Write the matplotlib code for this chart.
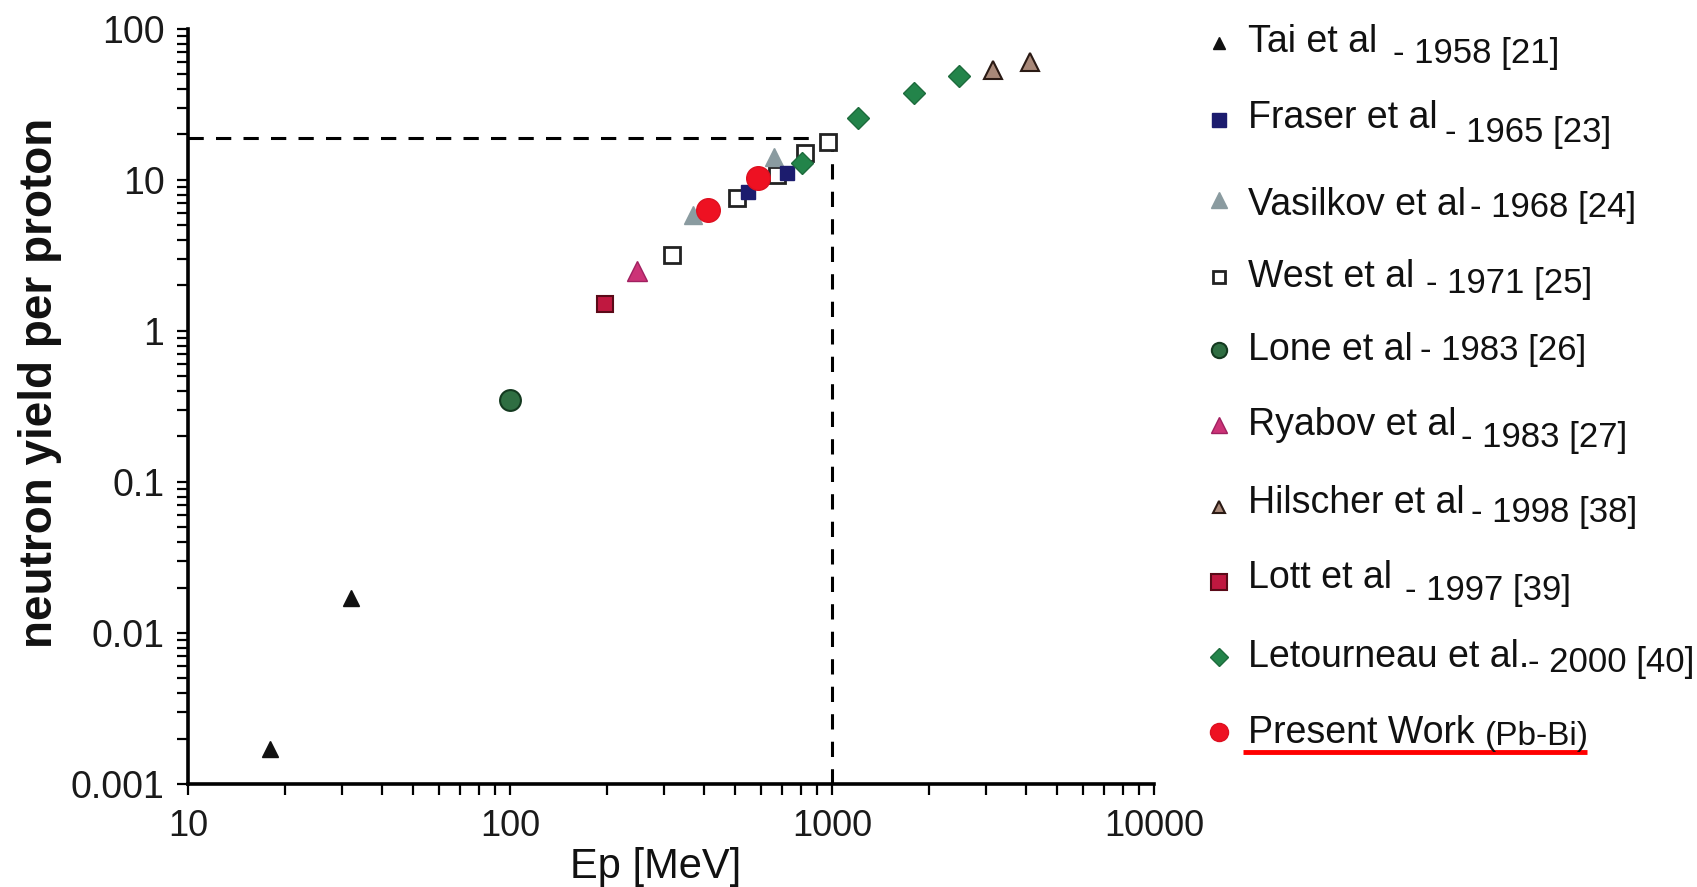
import matplotlib
matplotlib.use("Agg")
import matplotlib.pyplot as plt
from matplotlib.ticker import FixedLocator, FixedFormatter, LogLocator, NullFormatter

plt.rcParams['font.family'] = ['Liberation Sans', 'DejaVu Sans']

# data (Ep in MeV, neutrons per proton)
tai_x = [18, 32]
tai_y = [0.0017, 0.017]
fraser_x = [550, 725]
fraser_y = [8.3, 11.1]
vasilkov_x = [370, 660]
vasilkov_y = [5.9, 14.2]
west_x = [318, 507, 675, 824, 972]
west_y = [3.2, 7.6, 10.8, 15.1, 17.9]
lone_x = [100]
lone_y = [0.35]
ryabov_x = [248]
ryabov_y = [2.5]
hilscher_x = [3160, 4120]
hilscher_y = [53.5, 60.4]
lott_x = [197]
lott_y = [1.5]
letourneau_x = [807, 1205, 1800, 2480]
letourneau_y = [13.0, 25.8, 37.7, 48.9]
present_x = [412, 589]
present_y = [6.3, 10.3]

# reference lines (1 GeV -> ~19 n/p)
ref_energy = 1000
ref_yield = 19

x_ticks = [10, 100, 1000, 10000]
x_ticklabels = ["10", "100", "1000", "10000"]
y_ticks = [0.001, 0.01, 0.1, 1, 10, 100]
y_ticklabels = ["0.001", "0.01", "0.1", "1", "10", "100"]

names = ["Tai et al", "Fraser et al", "Vasilkov et al", "West et al", "Lone et al",
         "Ryabov et al", "Hilscher et al", "Lott et al", "Letourneau et al.", "Present Work"]
refs = ["- 1958 [21]", "- 1965 [23]", "- 1968 [24]", "- 1971 [25]", "- 1983 [26]",
        "- 1983 [27]", "- 1998 [38]", "- 1997 [39]", "- 2000 [40]", "(Pb-Bi)"]

# marker styles: (marker, face, edge, size in plot, size in legend, edge width)
styles = [
    ("^", "#111111", "#111111", 12, 9, 1),
    ("s", "#1c1c6e", "#1c1c6e", 10, 10, 1),
    ("^", "#8a9ba0", "#8a9ba0", 13, 11, 1),
    ("s", "white", "#222222", 11, 9, 2),
    ("o", "#2f6e42", "#143a20", 15, 11, 1.5),
    ("^", "#cc3377", "#a02060", 14, 12, 1),
    ("^", "#a88878", "#2a1a14", 13, 9, 1.5),
    ("s", "#c01840", "#5a0a18", 12, 11, 1.5),
    ("D", "#23844a", "#1d6b3c", 11, 9, 1),
    ("o", "#ee1122", "#dd1020", 17, 13, 1),
]
series = [(tai_x, tai_y), (fraser_x, fraser_y), (vasilkov_x, vasilkov_y),
          (west_x, west_y), (lone_x, lone_y), (ryabov_x, ryabov_y),
          (hilscher_x, hilscher_y), (lott_x, lott_y),
          (letourneau_x, letourneau_y), (present_x, present_y)]
draw_order = [0, 4, 7, 5, 3, 2, 1, 8, 6, 9]

W, H = 1697, 887
fig = plt.figure(figsize=(W / 100 + 0.001, H / 100 + 0.001), dpi=100)
ax = fig.add_axes([188 / W, 1 - 784 / H, (1154 - 188) / W, (784 - 29) / H])

for i in draw_order:
    m, fc, ec, ms, _, mew = styles[i]
    xs, ys = series[i]
    ax.plot(xs, ys, linestyle="none", marker=m, markerfacecolor=fc,
            markeredgecolor=ec, markersize=ms, markeredgewidth=mew, zorder=3)

ax.plot([10, ref_energy], [ref_yield, ref_yield], color="black", lw=2.2,
        dashes=(5, 4), zorder=2)
ax.plot([ref_energy, ref_energy], [0.001, ref_yield], color="black", lw=2.2,
        dashes=(5, 4), zorder=2)

ax.set_xscale("log")
ax.set_yscale("log")
ax.set_xlim(10, 10000)
ax.set_ylim(0.001, 100)
for s in ["top", "right"]:
    ax.spines[s].set_visible(False)
for s in ["left", "bottom"]:
    ax.spines[s].set_linewidth(2.6)
    ax.spines[s].set_color("black")

ax.xaxis.set_major_locator(FixedLocator(x_ticks))
ax.xaxis.set_major_formatter(FixedFormatter(x_ticklabels))
ax.yaxis.set_major_locator(FixedLocator(y_ticks))
ax.yaxis.set_major_formatter(FixedFormatter(y_ticklabels))
ax.xaxis.set_minor_locator(LogLocator(base=10, subs=range(2, 10)))
ax.yaxis.set_minor_locator(LogLocator(base=10, subs=range(2, 10)))
ax.xaxis.set_minor_formatter(NullFormatter())
ax.yaxis.set_minor_formatter(NullFormatter())
ax.tick_params(which="both", direction="out", length=8, width=1.6, color="black")
ax.tick_params(axis="x", which="major", pad=10, labelsize=26, labelcolor="#1a1a1a")
ax.tick_params(axis="y", which="major", pad=9, labelsize=27, labelcolor="#1a1a1a")

fig.text(40 / W, 1 - 383 / H, "neutron yield per proton", rotation=90,
         ha="center", va="center", fontsize=33, fontweight="bold", color="#111111")
fig.text(656 / W, 1 - 878 / H, "Ep [MeV]", ha="center", va="baseline",
         fontsize=30, color="#111111")

# legend drawn by hand on an overlay axes in pixel units
lax = fig.add_axes([0, 0, 1, 1], zorder=5)
lax.set_xlim(0, W)
lax.set_ylim(H, 0)
lax.axis("off")
lax.patch.set_alpha(0)

marker_y = [43, 120, 200, 277, 350, 425, 507, 582, 657, 732]
name_base = [52, 128, 215, 287, 360, 435, 513, 588, 667, 743]
ref_x = [1393, 1445, 1470, 1426, 1420, 1461, 1471, 1405, 1528, 1485]
ref_base = [63, 142, 217, 293, 360, 447, 522, 600, 672, 745]

for i in range(len(names)):
    m, fc, ec, _, lms, mew = styles[i]
    lax.plot([1219], [marker_y[i]], linestyle="none", marker=m, markerfacecolor=fc,
             markeredgecolor=ec, markersize=lms, markeredgewidth=mew)
    lax.text(1248, name_base[i], names[i], fontsize=27, va="baseline", ha="left",
             color="#111111")
    lax.text(ref_x[i], ref_base[i], refs[i], fontsize=24 if i == 9 else 25,
             va="baseline", ha="left", color="#111111")

lax.plot([1243, 1587], [752, 752], color="#ff0000", lw=3.5, solid_capstyle="butt")

fig.savefig("out.png", dpi=100, facecolor="white")
